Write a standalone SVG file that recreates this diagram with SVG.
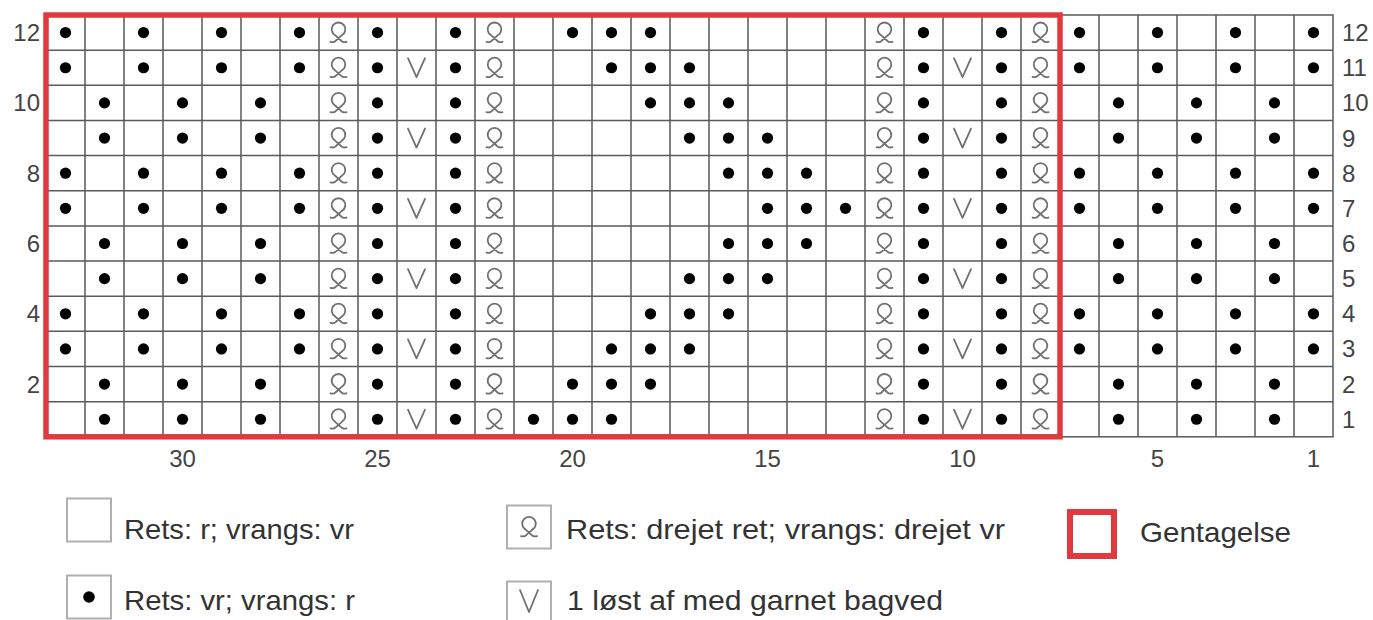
<svg xmlns="http://www.w3.org/2000/svg" xmlns:xlink="http://www.w3.org/1999/xlink" width="1373" height="620" viewBox="0 0 1373 620">
<style>
.grid{stroke:#5a5a5a;stroke-width:1.5;fill:none}
.dot{fill:#000}
.sym{stroke:#707070;stroke-width:1.8;fill:none;stroke-linecap:round;stroke-linejoin:round}
.num{font-family:"Liberation Sans",Arial,sans-serif;font-size:24px;fill:#444}
.leg{font-family:"Liberation Sans",Arial,sans-serif;font-size:28px;fill:#333}
.lbox{fill:#fff;stroke:#b0b0b0;stroke-width:2}
.red{fill:none;stroke:#e03a3e;stroke-width:5.5}
</style>
<defs>
<circle id="d" class="dot" r="5.6"/>
<path id="q" class="sym" d="M -3.4,2.6 A 6.8 6.8 0 1 1 3.4,2.6 L -2.8,8.2 Q -4.4,10 -8,9.2 M -3.4,2.6 L 2.8,8.2 Q 4.4,10 8,9.2"/>
<path id="v" class="sym" d="M -8.5,-9.5 L 0,9.5 L 8.5,-9.5"/>
<g id="common">
<use href="#q" x="338.5"/><use href="#d" x="377.5"/><use href="#d" x="455.5"/><use href="#q" x="494.5"/>
<use href="#q" x="884.5"/><use href="#d" x="923.5"/><use href="#d" x="1001.5"/><use href="#q" x="1040.5"/>
</g>
<g id="A">
<use href="#d" x="65.5"/><use href="#d" x="143.5"/><use href="#d" x="221.5"/><use href="#d" x="299.5"/>
<use href="#d" x="1079.5"/><use href="#d" x="1157.5"/><use href="#d" x="1235.5"/><use href="#d" x="1313.5"/>
</g>
<g id="B">
<use href="#d" x="104.5"/><use href="#d" x="182.5"/><use href="#d" x="260.5"/>
<use href="#d" x="1118.5"/><use href="#d" x="1196.5"/><use href="#d" x="1274.5"/>
</g>
<g id="slip"><use href="#v" x="416.5"/><use href="#v" x="962.5"/></g>
</defs>
<rect width="1373" height="620" fill="#fff"/>

<g id="grid" class="grid">
<rect x="46" y="15" width="1287" height="421.8"/>
<path d="M85,15V436.8M124,15V436.8M163,15V436.8M202,15V436.8M241,15V436.8M280,15V436.8M319,15V436.8M358,15V436.8M397,15V436.8M436,15V436.8M475,15V436.8M514,15V436.8M553,15V436.8M592,15V436.8M631,15V436.8M670,15V436.8M709,15V436.8M748,15V436.8M787,15V436.8M826,15V436.8M865,15V436.8M904,15V436.8M943,15V436.8M982,15V436.8M1021,15V436.8M1060,15V436.8M1099,15V436.8M1138,15V436.8M1177,15V436.8M1216,15V436.8M1255,15V436.8M1294,15V436.8"/>
<path d="M46,50.15H1333M46,85.3H1333M46,120.45H1333M46,155.6H1333M46,190.75H1333M46,225.9H1333M46,261.05H1333M46,296.2H1333M46,331.35H1333M46,366.5H1333M46,401.65H1333"/>
</g>

<g id="stitches">
<g id="row12" transform="translate(0,32.58)"><use href="#common"/><use href="#A"/><use href="#d" x="572.5"/><use href="#d" x="611.5"/><use href="#d" x="650.5"/></g>
<g id="row11" transform="translate(0,67.73)"><use href="#common"/><use href="#A"/><use href="#slip"/><use href="#d" x="611.5"/><use href="#d" x="650.5"/><use href="#d" x="689.5"/></g>
<g id="row10" transform="translate(0,102.88)"><use href="#common"/><use href="#B"/><use href="#d" x="650.5"/><use href="#d" x="689.5"/><use href="#d" x="728.5"/></g>
<g id="row9" transform="translate(0,138.03)"><use href="#common"/><use href="#B"/><use href="#slip"/><use href="#d" x="689.5"/><use href="#d" x="728.5"/><use href="#d" x="767.5"/></g>
<g id="row8" transform="translate(0,173.18)"><use href="#common"/><use href="#A"/><use href="#d" x="728.5"/><use href="#d" x="767.5"/><use href="#d" x="806.5"/></g>
<g id="row7" transform="translate(0,208.33)"><use href="#common"/><use href="#A"/><use href="#slip"/><use href="#d" x="767.5"/><use href="#d" x="806.5"/><use href="#d" x="845.5"/></g>
<g id="row6" transform="translate(0,243.48)"><use href="#common"/><use href="#B"/><use href="#d" x="728.5"/><use href="#d" x="767.5"/><use href="#d" x="806.5"/></g>
<g id="row5" transform="translate(0,278.63)"><use href="#common"/><use href="#B"/><use href="#slip"/><use href="#d" x="689.5"/><use href="#d" x="728.5"/><use href="#d" x="767.5"/></g>
<g id="row4" transform="translate(0,313.78)"><use href="#common"/><use href="#A"/><use href="#d" x="650.5"/><use href="#d" x="689.5"/><use href="#d" x="728.5"/></g>
<g id="row3" transform="translate(0,348.93)"><use href="#common"/><use href="#A"/><use href="#slip"/><use href="#d" x="611.5"/><use href="#d" x="650.5"/><use href="#d" x="689.5"/></g>
<g id="row2" transform="translate(0,384.08)"><use href="#common"/><use href="#B"/><use href="#d" x="572.5"/><use href="#d" x="611.5"/><use href="#d" x="650.5"/></g>
<g id="row1" transform="translate(0,419.23)"><use href="#common"/><use href="#B"/><use href="#slip"/><use href="#d" x="533.5"/><use href="#d" x="572.5"/><use href="#d" x="611.5"/></g>
</g>

<rect id="repeat" class="red" x="46" y="15" width="1014" height="421.8"/>

<g id="row-labels-left" class="num" text-anchor="end">
<text x="40" y="41">12</text>
<text x="40" y="111.3">10</text>
<text x="40" y="181.6">8</text>
<text x="40" y="251.9">6</text>
<text x="40" y="322.2">4</text>
<text x="40" y="392.5">2</text>
</g>
<g id="row-labels-right" class="num">
<text x="1342" y="41">12</text>
<text x="1342" y="76.2">11</text>
<text x="1342" y="111.3">10</text>
<text x="1342" y="146.5">9</text>
<text x="1342" y="181.6">8</text>
<text x="1342" y="216.8">7</text>
<text x="1342" y="251.9">6</text>
<text x="1342" y="287.1">5</text>
<text x="1342" y="322.2">4</text>
<text x="1342" y="357.4">3</text>
<text x="1342" y="392.5">2</text>
<text x="1342" y="427.7">1</text>
</g>
<g id="col-labels" class="num" text-anchor="middle">
<text x="182.5" y="467">30</text>
<text x="377.5" y="467">25</text>
<text x="572.5" y="467">20</text>
<text x="767.5" y="467">15</text>
<text x="962.5" y="467">10</text>
<text x="1157.5" y="467">5</text>
<text x="1313.5" y="467">1</text>
</g>

<g id="legend">
<g id="leg-knit">
<rect class="lbox" x="67" y="498.5" width="44" height="43"/>
<text class="leg" x="124" y="539" textLength="230" lengthAdjust="spacingAndGlyphs">Rets: r; vrangs: vr</text>
</g>
<g id="leg-purl">
<rect class="lbox" x="67" y="575.5" width="44" height="43"/>
<circle class="dot" cx="89" cy="597" r="5.8"/>
<text class="leg" x="124" y="610" textLength="231" lengthAdjust="spacingAndGlyphs">Rets: vr; vrangs: r</text>
</g>
<g id="leg-twist">
<rect class="lbox" x="507" y="505.5" width="44" height="43"/>
<use href="#q" x="529" y="527"/>
<text class="leg" x="566" y="539" textLength="439" lengthAdjust="spacingAndGlyphs">Rets: drejet ret; vrangs: drejet vr</text>
</g>
<g id="leg-slip">
<rect class="lbox" x="507" y="581.5" width="44" height="43"/>
<path class="sym" d="M520,590 L529,612 L538,590"/>
<text class="leg" x="567" y="610" textLength="376" lengthAdjust="spacingAndGlyphs">1 løst af med garnet bagved</text>
</g>
<g id="leg-repeat">
<rect x="1070" y="512" width="44" height="44" fill="none" stroke="#e03a3e" stroke-width="6"/>
<text class="leg" x="1140" y="542" textLength="151" lengthAdjust="spacingAndGlyphs">Gentagelse</text>
</g>
</g>
</svg>
